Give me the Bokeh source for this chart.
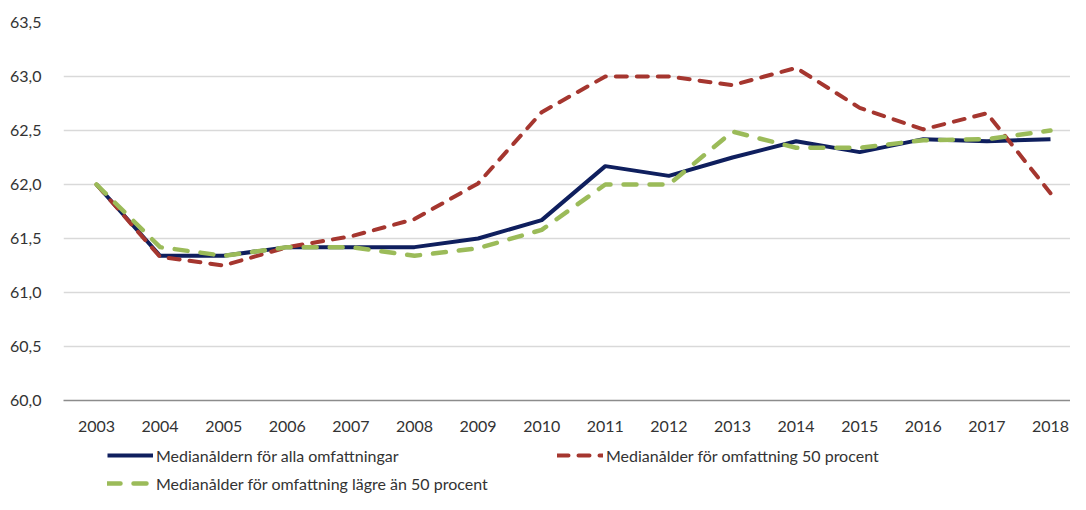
from bokeh.plotting import figure
from bokeh.layouts import column
from bokeh.models import Range1d, FixedTicker, Legend, LegendItem
from bokeh.embed import file_html
from bokeh.resources import INLINE

years = list(range(2003, 2019))
alla = [62.0, 61.34, 61.34, 61.42, 61.42, 61.42, 61.5, 61.67, 62.17, 62.08, 62.25, 62.4, 62.3, 62.42, 62.4, 62.42]
femtio = [62.0, 61.33, 61.25, 61.42, 61.52, 61.68, 62.01, 62.67, 63.0, 63.0, 62.92, 63.08, 62.71, 62.51, 62.66, 61.92]
lagre = [62.0, 61.42, 61.34, 61.42, 61.42, 61.34, 61.41, 61.58, 62.0, 62.0, 62.49, 62.34, 62.34, 62.41, 62.42, 62.5]
y_ticks = [60.0, 60.5, 61.0, 61.5, 62.0, 62.5, 63.0, 63.5]
y_tick_labels = ["60,0", "60,5", "61,0", "61,5", "62,0", "62,5", "63,0", "63,5"]
names = ["Medianåldern för alla omfattningar",
         "Medianålder för omfattning 50 procent",
         "Medianålder för omfattning lägre än 50 procent"]

FONT = "Lato"
TXT = "#333333"
W = 1070
H1, H2 = 440, 54
left, top, bottom = 63, 22, 40
first_x = 96
step = 63.6
x_start = years[0] - (first_x - left) / step
x_end = years[0] + (W - first_x) / step

styles = [dict(line_color="#0F1F5E", line_width=4, line_join="round"),
          dict(line_color="#A5362F", line_width=4, line_dash="11 10", line_cap="round", line_join="round"),
          dict(line_color="#9BBB59", line_width=4.5, line_dash="13 13", line_cap="round", line_join="round")]
series = [alla, femtio, lagre]

p = figure(width=W, height=H1, output_backend="svg", toolbar_location=None,
           x_range=Range1d(x_start, x_end), y_range=Range1d(60.0, 63.5),
           min_border_left=left, min_border_right=0, min_border_top=top,
           min_border_bottom=bottom)
p.outline_line_color = None

p.xgrid.grid_line_color = None
p.ygrid.grid_line_color = "#D9D9D9"
p.ygrid.grid_line_width = 1.5
p.ygrid.ticker = FixedTicker(ticks=y_ticks)

p.xaxis.ticker = FixedTicker(ticks=years)
p.xaxis.axis_line_color = "#8C8C8C"
p.xaxis.axis_line_width = 1.5
p.xaxis.major_tick_line_color = None
p.xaxis.minor_tick_line_color = None
p.xaxis.major_label_standoff = 14
p.xaxis.major_label_text_font = FONT
p.xaxis.major_label_text_font_size = "16px"
p.xaxis.major_label_text_color = TXT

p.yaxis.ticker = FixedTicker(ticks=y_ticks)
p.yaxis.major_label_overrides = {t: l for t, l in zip(y_ticks, y_tick_labels)}
p.yaxis.axis_line_color = None
p.yaxis.major_tick_line_color = None
p.yaxis.minor_tick_line_color = None
p.yaxis.major_label_standoff = 16
p.yaxis.major_label_text_font = FONT
p.yaxis.major_label_text_font_size = "16px"
p.yaxis.major_label_text_color = TXT

for s, st in zip(series, styles):
    p.line(years, s, **st)

# legend strip below the chart
q = figure(width=W, height=H2, output_backend="svg", toolbar_location=None,
           x_range=Range1d(0, 1), y_range=Range1d(0, 1),
           min_border_left=0, min_border_right=0, min_border_top=0, min_border_bottom=0)
q.axis.visible = False
q.grid.visible = False
q.outline_line_color = None
items = []
for s, st, nm in zip(series, styles, names):
    r = q.line(years, s, **st)   # outside the strip's range: only the legend shows
    items.append(LegendItem(label=nm, renderers=[r]))

common = dict(border_line_color=None, background_fill_alpha=0,
              glyph_width=46, glyph_height=20, label_height=20, label_standoff=3,
              spacing=8, padding=0, margin=0,
              label_text_font=FONT, label_text_font_size="16px", label_text_color=TXT)
legend_a = Legend(items=[items[0], items[2]], orientation="vertical", location=(44, 1), **common)
legend_b = Legend(items=[items[1]], orientation="vertical", location=(494, 29), **common)
q.add_layout(legend_a, "center")
q.add_layout(legend_b, "center")

open("out.html", "w").write(file_html(column(p, q, spacing=0), INLINE))
